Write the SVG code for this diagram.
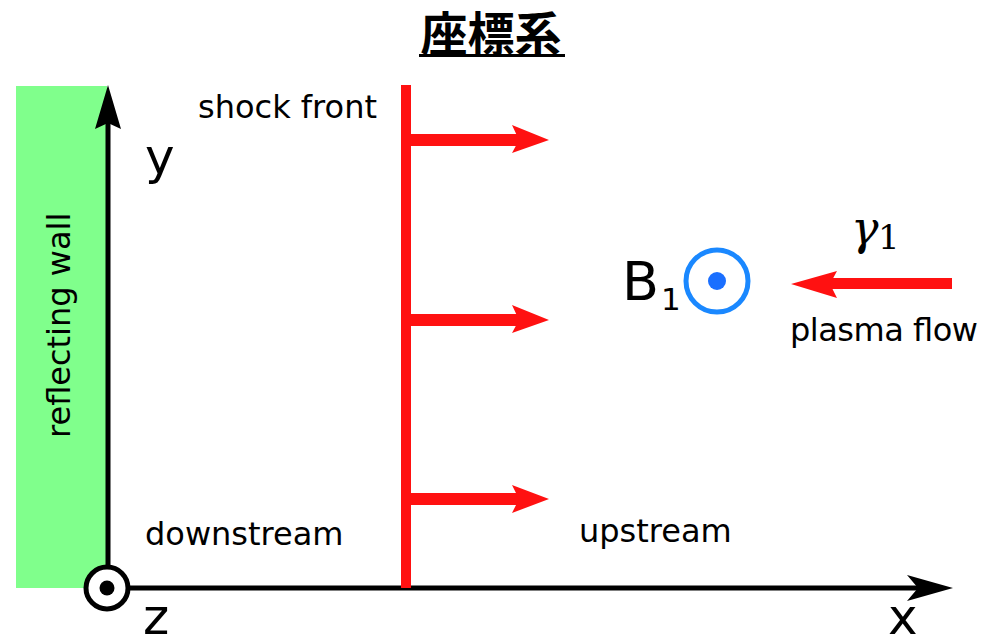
<svg xmlns="http://www.w3.org/2000/svg" width="994" height="637" viewBox="0 0 994 637">
<style>
.lbl{font-family:"DejaVu Sans","Liberation Sans",sans-serif;font-size:32px;fill:#000}
.axl{font-family:"DejaVu Sans","Liberation Sans",sans-serif;font-size:50px;fill:#000}
.red{fill:#ff1111}
.ax{stroke:#000;stroke-width:5;fill:none}
</style>
<rect width="994" height="637" fill="#fff"/>
<g id="title">
<text x="491" y="51" text-anchor="middle" font-family="'Noto Sans CJK JP','Noto Sans CJK SC',sans-serif" font-weight="bold" font-size="47">座標系</text>
<rect x="419" y="54" width="146" height="3" fill="#000"/>
</g>
<g id="wall">
<rect x="16" y="86" width="91" height="502" fill="#80ff8c"/>
<text class="lbl" transform="translate(70,438) rotate(-90)" font-size="31">reflecting wall</text>
</g>
<g id="connectors">
<line class="ax" x1="108" y1="588" x2="108" y2="115"/>
<path d="M108,85 L121,129 L108,123 L95,129 Z" fill="#000"/>
<line class="ax" x1="128" y1="588" x2="925" y2="588"/>
<path d="M953,588 L907,575 L918,588 L907,601 Z" fill="#000"/>
<rect class="red" x="410" y="134" width="110" height="12"/>
<path class="red" d="M549,140 L512,125 L519,140 L512,153 Z"/>
<rect class="red" x="410" y="314" width="110" height="12"/>
<path class="red" d="M549,320 L512,305 L519,320 L512,333 Z"/>
<rect class="red" x="410" y="493" width="110" height="12"/>
<path class="red" d="M549,499 L512,485 L519,499 L512,513 Z"/>
<rect class="red" x="830" y="278" width="122" height="11"/>
<path class="red" d="M791,284 L837,271 L830,284 L837,298 Z"/>
</g>
<g id="origin">
<circle cx="107" cy="588" r="21" fill="#fff" stroke="#000" stroke-width="5"/>
<circle cx="107" cy="588" r="7.5" fill="#000"/>
</g>
<g id="shock-front">
<rect class="red" x="401" y="85" width="10" height="503"/>
<text class="lbl" x="198" y="118">shock front</text>
</g>
<g id="B1">
<circle cx="717" cy="281" r="31" fill="none" stroke="#1a88ff" stroke-width="5"/>
<circle cx="717" cy="281" r="9" fill="#1a6fff"/>
<text font-family="'DejaVu Sans','Liberation Sans',sans-serif" font-size="54" x="622" y="300">B</text>
<text font-family="'DejaVu Sans','Liberation Sans',sans-serif" font-size="31" x="661" y="310">1</text>
</g>
<g id="plasma-flow">
<text font-family="'DejaVu Serif','Liberation Serif',serif" font-style="italic" font-size="46" x="851" y="244">γ</text>
<text font-family="'DejaVu Serif','Liberation Serif',serif" font-size="34" x="878" y="249">1</text>
<text class="lbl" x="790" y="341" textLength="188">plasma flow</text>
</g>
<g id="labels">
<text class="axl" x="145" y="174">y</text>
<text class="axl" x="143" y="634">z</text>
<text class="axl" x="888" y="634">x</text>
<text class="lbl" x="145" y="545">downstream</text>
<text class="lbl" x="579" y="542">upstream</text>
</g>
</svg>
